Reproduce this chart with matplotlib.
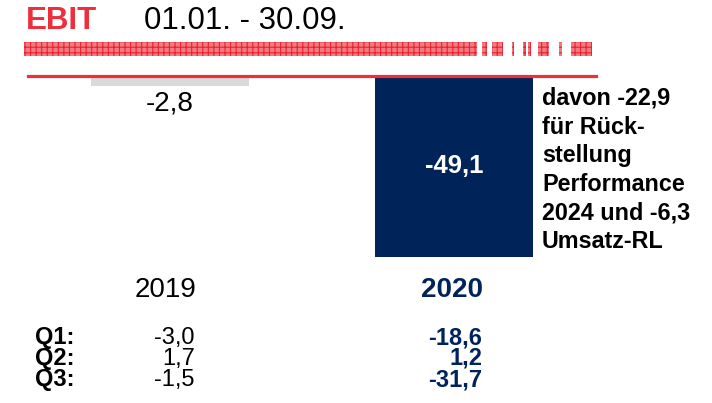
"""
EBIT 01.01. - 30.09. comparison chart (2019 vs 2020) with quarterly breakdown.
"""

import matplotlib
matplotlib.use("Agg")
import matplotlib.pyplot as plt
from matplotlib.patches import Rectangle
from matplotlib.lines import Line2D

# Data
years = ["2019", "2020"]
ebit_values = [-2.8, -49.1]
quarters = ["Q1:", "Q2:", "Q3:"]
q_2019 = [-3.0, 1.7, -1.5]
q_2020 = [-18.6, 1.2, -31.7]
note_lines = ["davon -22,9", "für Rück-", "stellung", "Performance",
              "2024 und -6,3", "Umsatz-RL"]

# Colours
RED = "#EE2E3A"
NAVY = "#00245A"
GREY = "#D9D9D9"

W, H = 712, 403
plt.rcParams["font.family"] = ["Liberation Sans", "DejaVu Sans"]
plt.rcParams["hatch.linewidth"] = 0.8


def px(x, y):
    """Pixel position (from top left) to figure fraction."""
    return x / W, 1 - y / H


def fmt(v):
    return f"{v:.1f}".replace(".", ",")


fig = plt.figure(figsize=(W / 100, H / 100), dpi=100)

# Bar axes covers the whole figure; bar centres at 170px and 454px,
# baseline at 75.5px, 3.69 px per unit
px_per_cat = 284.0
px_per_unit = 3.69
x0 = -170 / px_per_cat
ax = fig.add_axes([0, 0, 1, 1])
ax.set_xlim(x0, x0 + W / px_per_cat)
ax.set_ylim(-(H - 75.5) / px_per_unit, 75.5 / px_per_unit)
ax.axis("off")

xpos = list(range(len(years)))
ax.bar(xpos, ebit_values, width=158 / px_per_cat, color=[GREY, NAVY],
       align="center", zorder=1)

# value labels
ax.text(xpos[0], ebit_values[0], fmt(ebit_values[0]), ha="center", va="baseline",
        fontsize=20, color="black",
        transform=ax.transData + matplotlib.transforms.ScaledTranslation(
            0, -(111 - 75.5 - 2.8 * px_per_unit) / 100, fig.dpi_scale_trans))
ax.text(xpos[1], ebit_values[1] / 2, fmt(ebit_values[1]), ha="center", va="center",
        fontsize=18.5, fontweight="bold", color="white")

# Title
fig.text(*px(26, 29), "EBIT", fontsize=22.5, fontweight="bold", color=RED,
         va="baseline", ha="left")
fig.text(*px(144, 29), "01.01. - 30.09.", fontsize=22.5, color="black",
         va="baseline", ha="left")

# Patterned red band under the title
band_segments = [(24, 477), (482, 487), (492, 503), (512, 514), (523, 526),
                 (528, 531), (538, 549), (559, 562), (571, 592)]
for a, b in band_segments:
    fx, fy = px(a, 56)
    fig.add_artist(Rectangle((fx, fy), (b - a) / W, 14 / H,
                             transform=fig.transFigure, facecolor="#F47A82",
                             edgecolor="#E8222F", hatch="+++", linewidth=0))

# Red baseline
fig.add_artist(Line2D([28 / W, 596 / W], [1 - 75.5 / H] * 2,
                      transform=fig.transFigure, color=RED, linewidth=2.3))

# Note next to the 2020 bar
for i, line in enumerate(note_lines):
    fig.text(*px(542, 105 + i * 28.6), line, fontsize=16.8, fontweight="bold",
             color="black", va="baseline", ha="left")

# Year labels
fig.text(*px(166, 297), years[0], fontsize=20, color="black",
         ha="center", va="baseline")
fig.text(*px(452, 297), years[1], fontsize=20, fontweight="bold", color=NAVY,
         ha="center", va="baseline")

# Quarterly table
for i, q in enumerate(quarters):
    y = 344 + i * 21
    fig.text(*px(35, y), q, fontsize=17, fontweight="bold", color="black",
             ha="left", va="baseline")
    fig.text(*px(195, y), fmt(q_2019[i]), fontsize=17, color="black",
             ha="right", va="baseline")
    fig.text(*px(482, y), fmt(q_2020[i]), fontsize=17, fontweight="bold",
             color=NAVY, ha="right", va="baseline")

fig.savefig("out.png", dpi=100)
